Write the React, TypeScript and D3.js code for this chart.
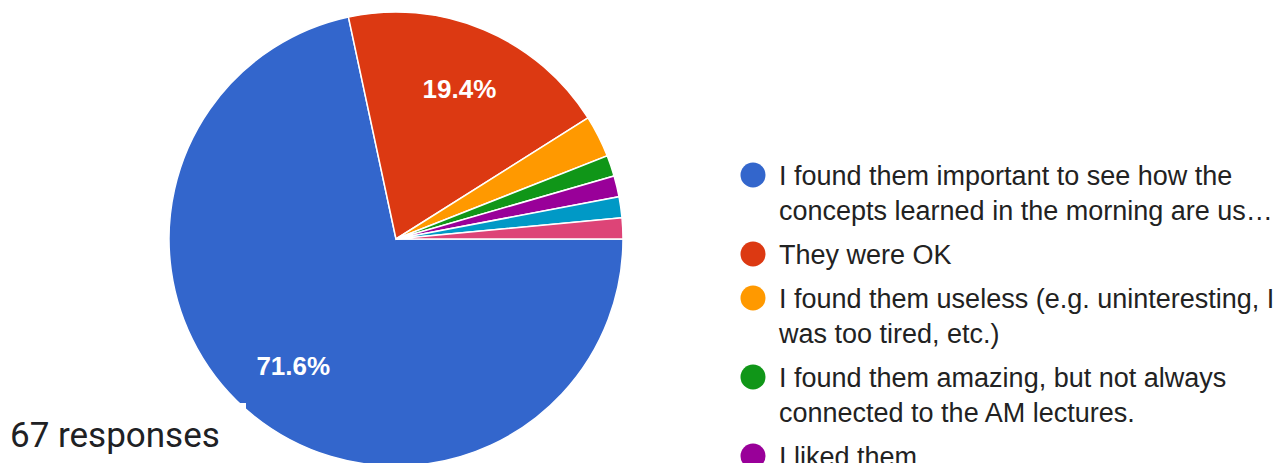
import React, { useEffect, useRef } from 'react';
import * as d3 from 'd3';

// responses per option (67 total)
const categories = [
  'I found them important to see how the concepts learned in the morning are used',
  'They were OK',
  'I found them useless (e.g. uninteresting, I was too tired, etc.)',
  'I found them amazing, but not always connected to the AM lectures.',
  'I liked them',
  'Option 6',
  'Option 7',
];
const counts = [48, 13, 2, 1, 1, 1, 1];
const colors = ['#3366cc', '#dc3912', '#ff9900', '#109618', '#990099', '#0099c6', '#dd4477'];

// legend text as wrapped in the picture
const legendLines = [
  ['I found them important to see how the', 'concepts learned in the morning are us…'],
  ['They were OK'],
  ['I found them useless (e.g. uninteresting, I', 'was too tired, etc.)'],
  ['I found them amazing, but not always', 'connected to the AM lectures.'],
  ['I liked them'],
];

const totalLabel = '67 responses';

const W = 1276;
const H = 463;

const PieChart: React.FC = () => {
  const svgRef = useRef<SVGSVGElement>(null);

  useEffect(() => {
    if (!svgRef.current) return;
    const svg = d3.select(svgRef.current);
    svg.selectAll('*').remove();

    const cx = 396;
    const cy = 239;
    const radius = 227;

    const data = categories.map((c, i) => ({ name: c, value: counts[i], color: colors[i] }));
    const total = d3.sum(counts);

    const pie = d3
      .pie<{ name: string; value: number; color: string }>()
      .value(d => d.value)
      .sort(null)
      .startAngle(Math.PI / 2)
      .endAngle(Math.PI / 2 + 2 * Math.PI);

    const arc = d3.arc<d3.PieArcDatum<{ name: string; value: number; color: string }>>()
      .innerRadius(0)
      .outerRadius(radius);

    const labelArc = d3.arc<d3.PieArcDatum<{ name: string; value: number; color: string }>>()
      .innerRadius(radius * 0.72)
      .outerRadius(radius * 0.72);

    const g = svg.append('g').attr('transform', `translate(${cx},${cy})`);
    const arcs = pie(data);

    g.selectAll('path')
      .data(arcs)
      .join('path')
      .attr('d', arc)
      .attr('fill', d => d.data.color)
      .attr('stroke', '#fff')
      .attr('stroke-width', 1.5);

    g.selectAll('text')
      .data(arcs.filter(d => d.data.value / total > 0.05))
      .join('text')
      .attr('transform', d => {
        const [x, y] = labelArc.centroid(d);
        return `translate(${x},${y})`;
      })
      .attr('text-anchor', 'middle')
      .attr('dy', '0.36em')
      .attr('fill', '#fff')
      .attr('font-family', '"Liberation Sans", Arial, sans-serif')
      .attr('font-size', 26)
      .attr('font-weight', 'bold')
      .text(d => `${((d.data.value / total) * 100).toFixed(1)}%`);

    // legend
    const legend = svg.append('g').attr('font-family', '"Liberation Sans", Arial, sans-serif');
    const lineHeight = 35;
    const itemGap = 44;
    let y = 175;
    legendLines.forEach((lines, i) => {
      legend.append('circle')
        .attr('cx', 753)
        .attr('cy', y)
        .attr('r', 12.5)
        .attr('fill', colors[i]);
      lines.forEach((line, j) => {
        legend.append('text')
          .attr('x', 779)
          .attr('y', y + 10 + j * lineHeight)
          .attr('font-size', 27)
          .attr('fill', '#222')
          .text(line);
      });
      y += itemGap + (lines.length - 1) * lineHeight;
    });

    // response count box, drawn over the pie
    svg.append('rect')
      .attr('x', 0)
      .attr('y', 403)
      .attr('width', 246)
      .attr('height', H - 403)
      .attr('fill', '#fff');
    svg.append('text')
      .attr('x', 10)
      .attr('y', 447)
      .attr('font-family', 'Roboto, sans-serif')
      .attr('font-size', 35)
      .attr('fill', '#202124')
      .text(totalLabel);
  }, []);

  return (
    <svg
      ref={svgRef}
      width={W}
      height={H}
      style={{ position: 'absolute', left: 0, top: 0, background: '#fff' }}
    />
  );
};

export default function App() {
  return <PieChart />;
}
